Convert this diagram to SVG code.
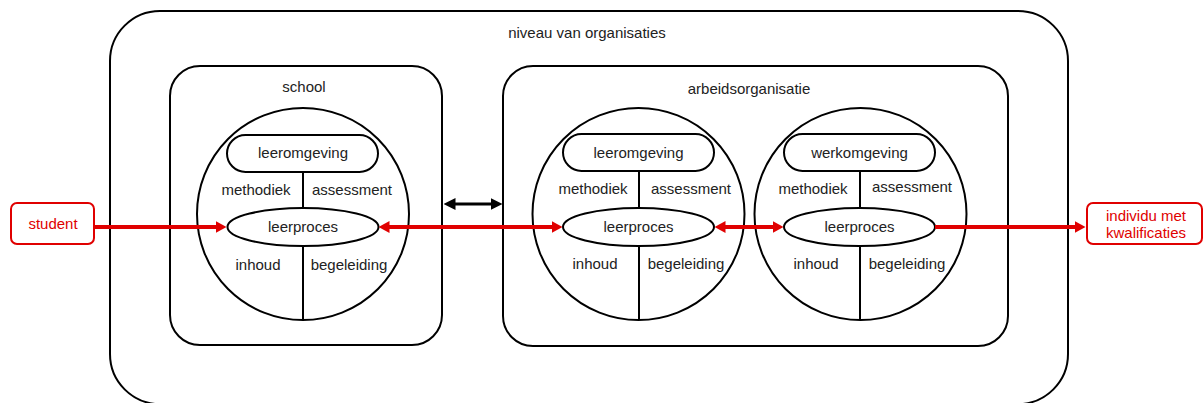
<svg xmlns="http://www.w3.org/2000/svg" width="1203" height="403" viewBox="0 0 1203 403">
<style>
.box{fill:none;stroke:#000;stroke-width:2}
.ln{stroke:#000;stroke-width:2}
.t{font-family:"Liberation Sans",Arial,sans-serif;font-size:15px;fill:#222;text-anchor:middle}
.rt{font-family:"Liberation Sans",Arial,sans-serif;font-size:15px;fill:#e00000;text-anchor:middle}
.rbox{fill:#fff;stroke:#e00000;stroke-width:2}
.red{stroke:#e00000;stroke-width:4;fill:none}
.blk{stroke:#000;stroke-width:3;fill:none}
</style>
<defs>
<marker id="ra" markerUnits="userSpaceOnUse" markerWidth="11" markerHeight="12" viewBox="0 0 11 12" refX="0.5" refY="6" orient="auto-start-reverse"><path d="M0,0 L11,6 L0,12 z" fill="#e00000"/></marker>
<marker id="ba" markerUnits="userSpaceOnUse" markerWidth="12" markerHeight="12" viewBox="0 0 12 12" refX="0.5" refY="6" orient="auto-start-reverse"><path d="M0,0 L12,6 L0,12 z" fill="#000"/></marker>
</defs>
<g id="organisaties">
<rect class="box" x="110" y="11" width="958" height="393" rx="50"/>
<text class="t" x="587" y="38">niveau van organisaties</text>
</g>
<g id="school">
<rect class="box" x="170" y="66" width="272" height="279" rx="30"/>
<text class="t" x="304" y="92">school</text>
</g>
<g id="arbeidsorganisatie">
<rect class="box" x="503" y="66" width="505" height="280" rx="30"/>
<text class="t" x="749" y="94">arbeidsorganisatie</text>
</g>
<g id="circle-school">
<circle class="box" cx="303" cy="214" r="106"/>
<rect class="box" x="227" y="135" width="151" height="37" rx="18.5"/>
<text class="t" x="303" y="158">leeromgeving</text>
<line class="ln" x1="303" y1="172" x2="303" y2="208"/>
<ellipse class="box" cx="303" cy="227" rx="75.5" ry="19"/>
<text class="t" x="303" y="232">leerproces</text>
<line class="ln" x1="303" y1="246" x2="303" y2="320"/>
<text class="t" x="256" y="195">methodiek</text>
<text class="t" x="352" y="195">assessment</text>
<text class="t" x="258" y="270">inhoud</text>
<text class="t" x="349" y="270">begeleiding</text>
</g>
<g id="circle-arb-leer">
<circle class="box" cx="638.5" cy="214" r="106"/>
<rect class="box" x="563" y="134" width="151" height="37" rx="18.5"/>
<text class="t" x="638.5" y="158">leeromgeving</text>
<line class="ln" x1="639" y1="171" x2="639" y2="208"/>
<ellipse class="box" cx="638.5" cy="227" rx="75.5" ry="19"/>
<text class="t" x="638.5" y="232">leerproces</text>
<line class="ln" x1="639" y1="246" x2="639" y2="320"/>
<text class="t" x="593" y="194">methodiek</text>
<text class="t" x="691" y="194">assessment</text>
<text class="t" x="595" y="269">inhoud</text>
<text class="t" x="686" y="269">begeleiding</text>
</g>
<g id="circle-arb-werk">
<circle class="box" cx="860.5" cy="214" r="106"/>
<rect class="box" x="784" y="134" width="151" height="37" rx="18.5"/>
<text class="t" x="859.5" y="158">werkomgeving</text>
<line class="ln" x1="860" y1="171" x2="860" y2="208"/>
<ellipse class="box" cx="859.5" cy="227" rx="75.5" ry="19"/>
<text class="t" x="859.5" y="232">leerproces</text>
<line class="ln" x1="860" y1="246" x2="860" y2="320"/>
<text class="t" x="813" y="194">methodiek</text>
<text class="t" x="912" y="192">assessment</text>
<text class="t" x="816" y="269">inhoud</text>
<text class="t" x="907" y="269">begeleiding</text>
</g>
<g id="student">
<rect class="rbox" x="11" y="203" width="83" height="41" rx="6"/>
<text class="rt" x="53" y="229">student</text>
</g>
<g id="individu">
<rect class="rbox" x="1087" y="203" width="115" height="41" rx="6"/>
<text class="rt" x="1146" y="221">individu met</text>
<text class="rt" x="1146" y="238">kwalificaties</text>
</g>
<g id="connectors">
<line class="red" x1="94" y1="227" x2="216" y2="227" marker-end="url(#ra)"/>
<line class="red" x1="389" y1="227" x2="552" y2="227" marker-start="url(#ra)" marker-end="url(#ra)"/>
<line class="red" x1="725" y1="227" x2="773" y2="227" marker-start="url(#ra)" marker-end="url(#ra)"/>
<line class="red" x1="935" y1="227" x2="1075" y2="227" marker-end="url(#ra)"/>
<line class="blk" x1="455" y1="204" x2="491" y2="204" marker-start="url(#ba)" marker-end="url(#ba)"/>
</g>
</svg>
